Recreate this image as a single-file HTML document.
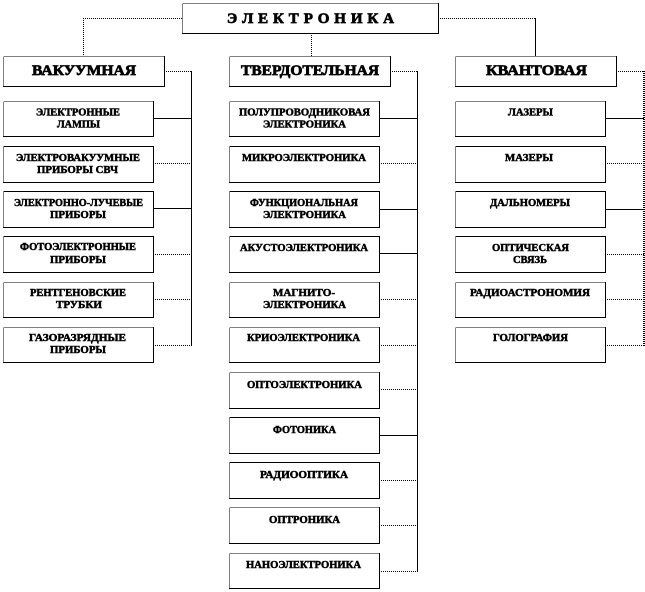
<!DOCTYPE html>
<html><head><meta charset="utf-8">
<style>
html,body{margin:0;padding:0;background:#fff}
svg{display:block}
text{font-family:"Liberation Serif","Noto Serif CJK SC",serif;font-weight:bold;fill:#000;stroke:#000}
.s text{font-size:10.5px;stroke-width:.5}
.h text{font-size:15px;stroke-width:.7}
.k{stroke:#000;stroke-width:1;fill:none;shape-rendering:crispEdges}
.d{stroke:#000;stroke-width:1;fill:none;stroke-dasharray:1 1;shape-rendering:crispEdges}
.b{fill:#fff;stroke:#000;stroke-width:1;shape-rendering:crispEdges}
</style></head><body>
<svg width="645" height="592" viewBox="0 0 645 592" xmlns="http://www.w3.org/2000/svg">
<!-- top connectors -->
<path class="d" d="M182 18.5H83.5V56"/>
<path class="d" d="M311.5 33V56"/>
<path class="d" d="M438 18.5H535"/>
<path class="k" d="M535.5 18V56"/>
<!-- header connectors -->
<path class="d" d="M164 71.5H192"/>
<path class="k" d="M191.5 71V346"/>
<path class="d" d="M390 71.5H418"/>
<path class="k" d="M417.5 71V571"/>
<path class="d" d="M616 71.5H644.5V346"/>
<path class="d" d="M643.5 71V346"/>
<!-- left connectors -->
<path class="k" d="M153 118.5H192"/><path class="d" d="M153 163.5H192"/><path class="k" d="M153 208.5H192"/><path class="d" d="M153 254.5H192"/><path class="d" d="M153 299.5H192"/><path class="d" d="M153 345.5H192"/>
<!-- mid connectors -->
<path class="k" d="M379 118.5H418"/><path class="d" d="M379 163.5H418"/><path class="k" d="M379 209.5H418"/><path class="k" d="M379 253.5H418"/><path class="d" d="M379 299.5H418"/><path class="d" d="M379 345.5H418"/><path class="d" d="M379 389.5H418"/><path class="k" d="M379 435.5H418"/><path class="d" d="M379 480.5H418"/><path class="d" d="M379 525.5H418"/><path class="d" d="M379 571.5H418"/>
<!-- right connectors -->
<path class="k" d="M605 118.5H644"/><path class="d" d="M605 163.5H644"/><path class="k" d="M605 209.5H644"/><path class="d" d="M605 254.5H644"/><path class="d" d="M605 299.5H644"/><path class="d" d="M605 345.5H644"/>
<!-- top and header boxes -->
<rect class="b" x="182.5" y="3.5" width="256" height="30"/>
<rect class="b" x="3.5" y="56.5" width="161" height="30"/>
<rect class="b" x="229.5" y="56.5" width="161" height="30"/>
<rect class="b" x="455.5" y="56.5" width="161" height="30"/>
<!-- left boxes -->
<rect class="b" x="3.5" y="101.5" width="150" height="35"/>
<rect class="b" x="3.5" y="146.5" width="150" height="36"/>
<rect class="b" x="3.5" y="191.5" width="150" height="36"/>
<rect class="b" x="3.5" y="236.5" width="150" height="36"/>
<rect class="b" x="3.5" y="282.5" width="150" height="35"/>
<rect class="b" x="3.5" y="327.5" width="150" height="35"/>
<!-- mid boxes -->
<rect class="b" x="229.5" y="101.5" width="150" height="35"/>
<rect class="b" x="229.5" y="146.5" width="150" height="36"/>
<rect class="b" x="229.5" y="191.5" width="150" height="36"/>
<rect class="b" x="229.5" y="236.5" width="150" height="36"/>
<rect class="b" x="229.5" y="282.5" width="150" height="35"/>
<rect class="b" x="229.5" y="327.5" width="150" height="35"/>
<rect class="b" x="229.5" y="372.5" width="150" height="36"/>
<rect class="b" x="229.5" y="417.5" width="150" height="36"/>
<rect class="b" x="229.5" y="462.5" width="150" height="36"/>
<rect class="b" x="229.5" y="507.5" width="150" height="36"/>
<rect class="b" x="229.5" y="553.5" width="150" height="35"/>
<!-- right boxes -->
<rect class="b" x="455.5" y="101.5" width="150" height="35"/>
<rect class="b" x="455.5" y="146.5" width="150" height="36"/>
<rect class="b" x="455.5" y="191.5" width="150" height="36"/>
<rect class="b" x="455.5" y="236.5" width="150" height="36"/>
<rect class="b" x="455.5" y="282.5" width="150" height="35"/>
<rect class="b" x="455.5" y="327.5" width="150" height="35"/>
<!-- dotted top/left edges over boxes -->
<path d="M182.5 3.5H438.5M182.5 3.5V33.5M3.5 56.5H164M3.5 56.5V86M229.5 56.5H390M229.5 56.5V86M455.5 56.5H616M455.5 56.5V86M3.5 101.5H153M3.5 101.5V136M229.5 101.5H379M229.5 101.5V136M455.5 101.5H605M455.5 101.5V136M3.5 146.5V182M229.5 146.5V182M455.5 146.5V182M3.5 191.5V227M229.5 191.5V227M455.5 191.5V227M3.5 236.5V272M229.5 236.5V272M455.5 236.5V272M3.5 282.5H153M3.5 282.5V317M229.5 282.5H379M229.5 282.5V317M455.5 282.5H605M455.5 282.5V317M3.5 327.5H153M3.5 327.5V362M229.5 327.5H379M229.5 327.5V362M455.5 327.5H605M455.5 327.5V362M229.5 372.5H379M229.5 372.5V408M229.5 417.5V453M229.5 462.5V498M229.5 507.5H379M229.5 507.5V543M229.5 553.5H379M229.5 553.5V588" fill="none" stroke="#fff" stroke-width="1" stroke-dasharray="1 1" shape-rendering="crispEdges"/>
<g class="h">
<text x="227" y="23" textLength="167" lengthAdjust="spacing">Э Л Е К Т Р О Н И К А</text>
<text x="32" y="75" textLength="104" lengthAdjust="spacingAndGlyphs">ВАКУУМНАЯ</text>
<text x="241" y="75" textLength="138" lengthAdjust="spacingAndGlyphs">ТВЕРДОТЕЛЬНАЯ</text>
<text x="486" y="75" textLength="101" lengthAdjust="spacingAndGlyphs">КВАНТОВАЯ</text>
</g>
<g class="s">
<text x="36" y="115.5" textLength="84" lengthAdjust="spacingAndGlyphs">ЭЛЕКТРОННЫЕ</text>
<text x="57" y="127.5" textLength="43" lengthAdjust="spacingAndGlyphs">ЛАМПЫ</text>
<text x="16" y="161" textLength="124" lengthAdjust="spacingAndGlyphs">ЭЛЕКТРОВАКУУМНЫЕ</text>
<text x="37" y="173" textLength="81" lengthAdjust="spacingAndGlyphs">ПРИБОРЫ СВЧ</text>
<text x="14" y="206" textLength="129" lengthAdjust="spacingAndGlyphs">ЭЛЕКТРОННО-ЛУЧЕВЫЕ</text>
<text x="50" y="218" textLength="56" lengthAdjust="spacingAndGlyphs">ПРИБОРЫ</text>
<text x="20" y="250" textLength="116" lengthAdjust="spacingAndGlyphs">ФОТОЭЛЕКТРОННЫЕ</text>
<text x="50" y="263" textLength="56" lengthAdjust="spacingAndGlyphs">ПРИБОРЫ</text>
<text x="30" y="296" textLength="96" lengthAdjust="spacingAndGlyphs">РЕНТГЕНОВСКИЕ</text>
<text x="56" y="308" textLength="46" lengthAdjust="spacingAndGlyphs">ТРУБКИ</text>
<text x="29" y="341" textLength="97" lengthAdjust="spacingAndGlyphs">ГАЗОРАЗРЯДНЫЕ</text>
<text x="50" y="353" textLength="56" lengthAdjust="spacingAndGlyphs">ПРИБОРЫ</text>

<text x="239" y="115.5" textLength="131" lengthAdjust="spacingAndGlyphs">ПОЛУПРОВОДНИКОВАЯ</text>
<text x="263" y="127.5" textLength="83" lengthAdjust="spacingAndGlyphs">ЭЛЕКТРОНИКА</text>
<text x="242" y="161" textLength="124" lengthAdjust="spacingAndGlyphs">МИКРОЭЛЕКТРОНИКА</text>
<text x="250" y="206" textLength="108" lengthAdjust="spacingAndGlyphs">ФУНКЦИОНАЛЬНАЯ</text>
<text x="263" y="218" textLength="83" lengthAdjust="spacingAndGlyphs">ЭЛЕКТРОНИКА</text>
<text x="240" y="251" textLength="128" lengthAdjust="spacingAndGlyphs">АКУСТОЭЛЕКТРОНИКА</text>
<text x="273" y="296" textLength="62" lengthAdjust="spacingAndGlyphs">МАГНИТО-</text>
<text x="263" y="308" textLength="83" lengthAdjust="spacingAndGlyphs">ЭЛЕКТРОНИКА</text>
<text x="247" y="341" textLength="113" lengthAdjust="spacingAndGlyphs">КРИОЭЛЕКТРОНИКА</text>
<text x="247" y="388" textLength="115" lengthAdjust="spacingAndGlyphs">ОПТОЭЛЕКТРОНИКА</text>
<text x="273" y="433" textLength="63" lengthAdjust="spacingAndGlyphs">ФОТОНИКА</text>
<text x="260" y="478" textLength="88" lengthAdjust="spacingAndGlyphs">РАДИООПТИКА</text>
<text x="269" y="523" textLength="71" lengthAdjust="spacingAndGlyphs">ОПТРОНИКА</text>
<text x="246" y="568" textLength="115" lengthAdjust="spacingAndGlyphs">НАНОЭЛЕКТРОНИКА</text>

<text x="508" y="115.5" textLength="45" lengthAdjust="spacingAndGlyphs">ЛАЗЕРЫ</text>
<text x="505" y="161" textLength="48" lengthAdjust="spacingAndGlyphs">МАЗЕРЫ</text>
<text x="490" y="206" textLength="80" lengthAdjust="spacingAndGlyphs">ДАЛЬНОМЕРЫ</text>
<text x="492" y="251" textLength="77" lengthAdjust="spacingAndGlyphs">ОПТИЧЕСКАЯ</text>
<text x="513" y="263" textLength="34" lengthAdjust="spacingAndGlyphs">СВЯЗЬ</text>
<text x="470" y="296" textLength="120" lengthAdjust="spacingAndGlyphs">РАДИОАСТРОНОМИЯ</text>
<text x="493" y="341" textLength="75" lengthAdjust="spacingAndGlyphs">ГОЛОГРАФИЯ</text>
</g>
</svg>
</body></html>
